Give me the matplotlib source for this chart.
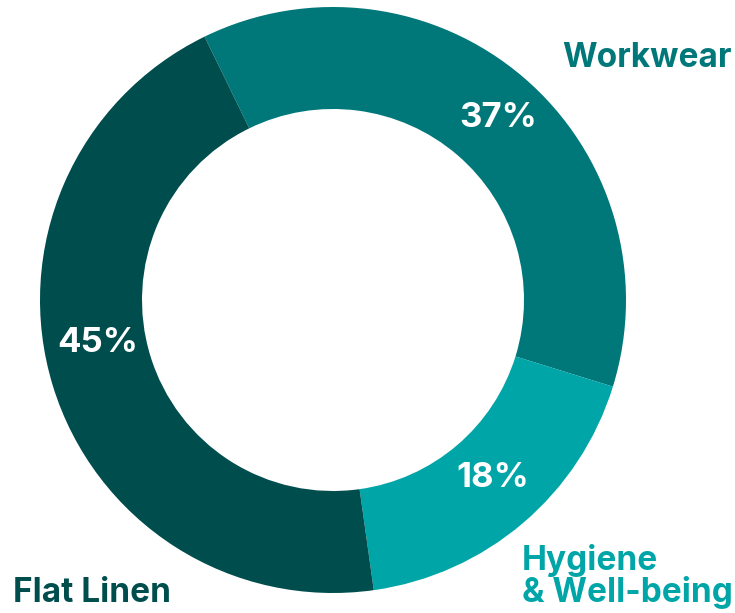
import matplotlib
matplotlib.use("Agg")
import matplotlib.pyplot as plt

segments = ["Workwear", "Hygiene\n& Well-being", "Flat Linen"]
shares = [37, 18, 45]
colors = ["#00787A", "#00A5A8", "#004D4D"]

plt.rcParams['font.family'] = ['Inter', 'DejaVu Sans']

fig = plt.figure(figsize=(7.35, 6.13), dpi=100)
ax = fig.add_axes([0, 0, 1, 1])

wedges, _ = ax.pie(shares, colors=colors, startangle=116, counterclock=False,
                   center=(333, 313), radius=293,
                   wedgeprops=dict(width=102, linewidth=0))
ax.set_xlim(0, 735)
ax.set_ylim(0, 613)
ax.set_aspect('equal')
ax.axis('off')

# percentage labels inside the ring
pct_pos = [(498, 495), (493, 135), (98, 270)]
for (x, y), s in zip(pct_pos, shares):
    ax.text(x, y, f"{s}%", color="white", fontsize=25, fontweight='bold',
            ha='center', va='center')

# category labels outside
ax.text(562, 546, segments[0], color=colors[0], fontsize=24, fontweight='bold',
        ha='left', va='baseline')
ax.text(522, 11, segments[1], color=colors[1], fontsize=24, fontweight='bold',
        ha='left', va='baseline', linespacing=0.98)
ax.text(13, 11, segments[2], color=colors[2], fontsize=24, fontweight='bold',
        ha='left', va='baseline')

fig.savefig("out.png", dpi=100)
